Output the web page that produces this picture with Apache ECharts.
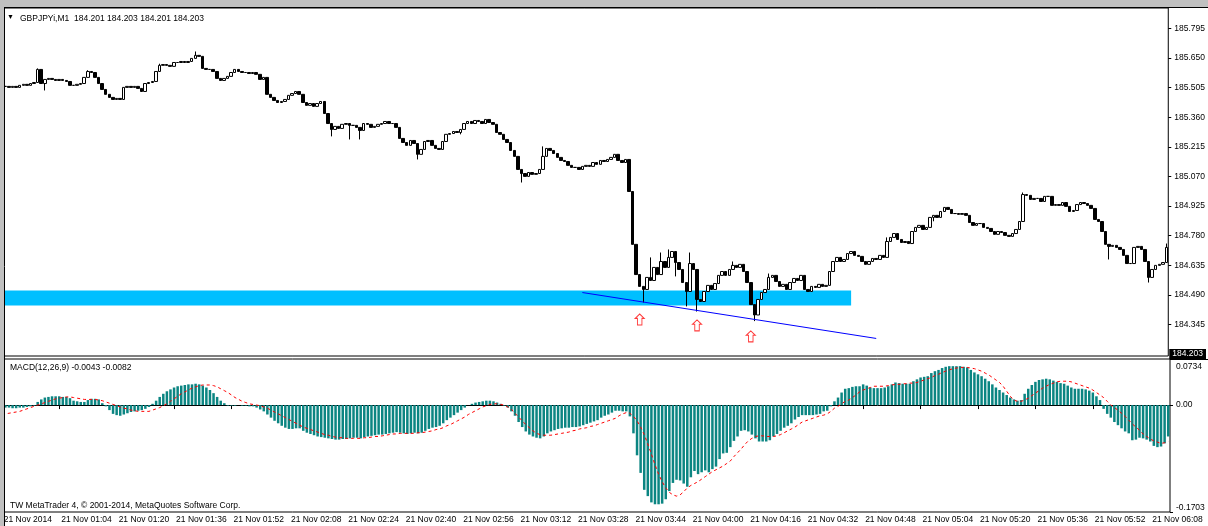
<!DOCTYPE html>
<html>
<head>
<meta charset="utf-8">
<script src="https://cdn.jsdelivr.net/npm/echarts@6/dist/echarts.min.js"></script>
<style>
html, body { margin: 0; padding: 0; background: #fff; }
#chart { width: 1208px; height: 526px; }
</style>
</head>
<body>
<div id="chart"></div>
<script>
// GBPJPYi M1, 21 Nov 2014 00:48 .. 06:13
// closes in points above 184.000 (1 point = 0.001)
const closePts = [
  1511,1511,1506,1511,1506,1516,1521,1516,1525,1530,
  1594,1525,1545,1550,1545,1540,1545,1540,1535,1516,
  1516,1521,1525,1555,1584,1579,1555,1525,1496,1472,
  1457,1447,1452,1447,1506,1511,1506,1511,1501,1486,
  1525,1530,1535,1584,1614,1618,1614,1609,1628,1628,
  1633,1628,1633,1648,1663,1658,1599,1594,1594,1584,
  1550,1540,1550,1560,1579,1594,1584,1579,1579,1574,
  1579,1570,1545,1555,1472,1457,1442,1432,1437,1447,
  1467,1476,1486,1472,1432,1418,1427,1413,1427,1437,
  1378,1329,1300,1315,1305,1325,1329,1320,1320,1310,
  1295,1329,1325,1310,1315,1325,1329,1339,1329,1329,
  1310,1256,1236,1222,1246,1231,1178,1202,1241,1246,
  1222,1207,1202,1241,1276,1280,1290,1285,1300,1329,
  1339,1329,1344,1339,1329,1349,1334,1325,1285,1276,
  1251,1236,1197,1168,1104,1084,1070,1089,1080,1084,
  1104,1168,1207,1197,1182,1163,1148,1143,1124,1114,
  1114,1104,1119,1124,1119,1138,1129,1148,1143,1153,
  1163,1178,1148,1138,1153,996,737,589,531,516,
  575,560,624,589,653,624,673,702,648,614,
  550,506,643,614,467,457,506,536,516,545,
  585,604,585,614,634,624,639,604,550,442,
  391,467,501,516,575,585,555,531,541,516,
  550,570,560,585,516,506,531,526,541,531,
  536,604,653,673,653,663,692,702,683,678,
  653,639,653,668,663,683,673,751,771,790,
  761,746,751,741,800,820,830,810,820,869,
  879,869,898,918,908,888,888,884,888,879,
  844,830,839,839,820,815,800,786,800,795,
  781,776,790,810,849,981,977,957,962,962,
  947,972,972,928,932,928,942,923,898,903,
  932,942,937,928,913,859,849,800,737,727,
  732,722,712,683,643,643,722,727,712,653,
  575,614,634,639,648,722
];

// long wicks (points above 184.000), by bar index
const highPts = {10: 1599, 24: 1590, 44: 1622, 54: 1682, 151: 1217, 181: 673, 184: 697, 186: 712,
  192: 697, 204: 653, 214: 594, 247: 771, 285: 991, 325: 741};
const lowPts = {12: 1491, 92: 1266, 97: 1251, 100: 1251, 116: 1153, 128: 1276, 145: 1040, 179: 452,
  188: 580, 191: 433, 194: 408, 210: 361, 260: 850, 309: 663, 320: 550};

// MACD(12,26,9) main (histogram) and signal, in thousandths
const macdMain = [
  -3,-4,-4,-5,-5,-4,-4,-3,-2,-1,
  5,9,12,13,14,14,14,13,13,11,
  7,6,5,5,8,10,10,9,
  3,-2,-8,-14,-16,-17,-15,-13,-11,-10,-9,-8,-6,-3,
  2,7,13,18,22,25,28,30,31,32,33,33,34,33,31,28,24,19,13,7,3,
  -1,-1,-1,0,-1,-1,-2,-2,
  -4,-7,-10,-15,-20,-25,-29,-33,-36,-38,-38,-37,-37,
  -41,-44,-46,-48,-50,-51,-52,-53,-54,-55,-55,-54,-54,-53,-52,-52,-53,-51,-50,-49,
  -48,-47,-47,-46,-45,-44,-43,-44,-45,-46,-45,-44,-45,-44,-41,-38,-36,-35,-33,-29,
  -24,-20,-16,-12,-8,-4,0,
  2,4,5,6,7,7,6,4,2,-1,-4,
  -10,-17,-27,-35,-42,-47,-50,-52,-53,-50,-45,-42,-40,-38,-37,-36,-36,-35,-35,-34,
  -32,-30,-28,-26,-24,-20,-17,-15,-12,-9,-9,-10,-10,
  -18,-45,-80,-108,-135,-145,-155,-158,-158,-157,-150,-137,-124,-119,-120,-125,-130,-115,-105,-110,
  -107,-104,-107,-102,-98,-86,-77,-76,-67,-57,-50,-41,-40,-42,-47,-53,-58,-58,-58,-56,
  -50,-46,-41,-36,-33,-29,-23,-19,-16,-16,-16,-16,-15,-14,-10,-9,-2,
  6,12,20,26,27,29,30,30,33,31,28,27,27,27,28,
  30,33,36,35,34,34,34,38,41,44,45,46,51,54,56,59,61,62,62,62,
  62,61,60,56,52,49,46,42,38,33,28,24,20,16,12,9,7,8,
  18,26,32,37,40,41,42,41,39,37,35,34,31,28,26,26,26,25,23,20,14,8,
  -6,-14,-20,-27,-32,-37,-42,-45,-56,-55,-52,-53,-55,-58,-65,-67,-66,-61,-50
];
const macdSignal = [
  -14,-14,-13,-12,-11,-10,-8,-6,-4,-2,
  0,2,4,6,8,10,11,12,13,13,
  12,11,10,9,9,9,9,8,7,5,
  3,1,-1,-3,-5,-6,-8,-9,-10,-10,
  -10,-10,-8,-6,-4,-1,2,6,10,14,
  18,21,24,27,29,31,32,32,32,31,
  29,26,23,20,16,12,9,6,4,2,
  1,0,-1,-3,-5,-8,-11,-14,-17,-20,
  -23,-26,-29,-32,-35,-37,-39,-41,-43,-45,
  -47,-48,-50,-51,-52,-52,-53,-53,-53,-53,
  -53,-52,-52,-51,-50,-50,-49,-48,-47,-46,
  -46,-45,-45,-45,-45,-45,-44,-44,-43,-42,
  -41,-39,-38,-36,-33,-31,-28,-25,-22,-19,
  -15,-12,-9,-6,-3,-1,1,2,2,1,
  0,-3,-7,-13,-19,-25,-31,-36,-41,-45,
  -47,-48,-48,-48,-47,-46,-45,-44,-43,-41,
  -40,-38,-37,-36,-34,-33,-31,-29,-27,-25,
  -23,-21,-17,-14,-12,-13,-18,-25,-35,-47,
  -62,-78,-95,-110,-122,-132,-139,-143,-145,-143,
  -138,-132,-128,-125,-122,-118,-114,-110,-106,-103,
  -100,-97,-93,-89,-82,-76,-70,-63,-57,-53,
  -50,-49,-49,-50,-50,-50,-49,-47,-44,-41,
  -38,-35,-31,-27,-25,-23,-21,-19,-17,-16,
  -14,-10,-5,-2,2,6,8,12,16,21,
  24,26,28,30,30,30,30,31,32,33,
  33,34,34,35,35,36,38,40,42,44,
  47,49,52,54,56,58,59,60,60,60,
  59,58,56,54,51,48,44,40,36,30,
  22,14,8,6,6,8,11,15,19,23,
  27,30,33,35,37,38,38,38,37,35,
  33,31,29,27,24,20,16,12,6,0,
  -4,-8,-13,-18,-24,-30,-35,-40,-46,-50,
  -54,-57,-59,-61,-60,-58
];

const timeLabels = ['21 Nov 2014', '21 Nov 01:04', '21 Nov 01:20', '21 Nov 01:36', '21 Nov 01:52',
  '21 Nov 02:08', '21 Nov 02:24', '21 Nov 02:40', '21 Nov 02:56', '21 Nov 03:12', '21 Nov 03:28',
  '21 Nov 03:44', '21 Nov 04:00', '21 Nov 04:16', '21 Nov 04:32', '21 Nov 04:48', '21 Nov 05:04',
  '21 Nov 05:20', '21 Nov 05:36', '21 Nov 05:52', '21 Nov 06:08'];
const priceTicks = [184.345, 184.490, 184.635, 184.780, 184.925, 185.070, 185.215, 185.360, 185.505, 185.650, 185.795];
const macdTicks = [-0.1703, 0, 0.0734];
const bidPrice = 184.203;

// drawn objects: support zone, trend line, arrows
const zoneBars = [0, 237];
const zonePrices = [184.511, 184.438];
const trendBars = [162, 244];
const trendPrices = [184.501, 184.276];
const arrowBars = [178, 194, 209];
const arrowPrices = [184.369, 184.340, 184.286];

const FONT = 'Tahoma, "Liberation Sans", sans-serif';
const FS = 8.5;

const pad = n => (n < 10 ? '0' : '') + n;
const categories = closePts.map((_, i) => {
  const m = 48 + i;
  return '21 Nov ' + pad(Math.floor(m / 60)) + ':' + pad(m % 60);
});
const toPrice = p => +(184 + p / 1000).toFixed(3);
const candles = closePts.map((c, i) => {
  const o = i === 0 ? c : closePts[i - 1];
  const lo = Math.min(o, c, lowPts[i] !== undefined ? lowPts[i] : Infinity);
  const hi = Math.max(o, c, highPts[i] !== undefined ? highPts[i] : -Infinity);
  return [toPrice(o), toPrice(c), toPrice(lo), toPrice(hi)];
});

const chart = echarts.init(document.getElementById('chart'), null, {renderer: 'canvas'});

chart.setOption({
  animation: false,
  backgroundColor: '#ffffff',
  textStyle: {fontFamily: FONT, fontSize: FS, color: '#000'},
  title: [
    {text: '▼', left: 7, top: 14, padding: 0, textStyle: {fontSize: 7, fontWeight: 'normal', color: '#000', fontFamily: FONT}},
    {text: 'GBPJPYi,M1  184.201 184.203 184.201 184.203', left: 20, top: 14, padding: 0,
      textStyle: {fontSize: FS, fontWeight: 'normal', color: '#000', fontFamily: FONT}},
    {text: 'MACD(12,26,9) -0.0043 -0.0082', left: 10, top: 363, padding: 0,
      textStyle: {fontSize: FS, fontWeight: 'normal', color: '#000', fontFamily: FONT}},
    {text: 'TW MetaTrader 4, © 2001-2014, MetaQuotes Software Corp.', left: 10, top: 501, padding: 0,
      textStyle: {fontSize: FS, fontWeight: 'normal', color: '#000', fontFamily: FONT}}
  ],
  grid: [
    {left: 0, top: 8, width: 1170, height: 348, show: true, borderColor: '#000', borderWidth: 1},
    {left: 0, top: 359, width: 1170, height: 153, show: true, borderColor: '#000', borderWidth: 1}
  ],
  xAxis: [
    {type: 'category', gridIndex: 0, data: categories, boundaryGap: true,
      axisLine: {show: false}, axisTick: {show: false}, axisLabel: {show: false}, splitLine: {show: false}},
    {type: 'category', gridIndex: 1, data: categories, boundaryGap: true, position: 'bottom',
      axisLine: {show: true, lineStyle: {color: '#000', width: 1}},
      axisTick: {show: true, interval: 15, alignWithLabel: true, length: 4, lineStyle: {color: '#000'}},
      axisLabel: {show: true, interval: 15, align: 'left', margin: 3, padding: [0, 0, 0, 2],
        fontFamily: FONT, fontSize: FS, color: '#000',
        formatter: (v, i) => (i % 16 === 0 ? timeLabels[i / 16] : '')},
      splitLine: {show: false}}
  ],
  yAxis: [
    {type: 'value', gridIndex: 0, position: 'right', min: 184.190, max: 185.895, scale: true,
      axisLine: {show: false}, splitLine: {show: false},
      axisTick: {show: true, length: 3, lineStyle: {color: '#000'}, customValues: priceTicks},
      axisLabel: {show: true, margin: 6, fontFamily: FONT, fontSize: FS, color: '#000',
        customValues: priceTicks, formatter: v => v.toFixed(3)}},
    {type: 'value', gridIndex: 1, position: 'right', min: -0.1703, max: 0.0734,
      axisLine: {show: false}, splitLine: {show: false},
      axisTick: {show: true, length: 3, lineStyle: {color: '#000'}, customValues: macdTicks},
      axisLabel: {show: true, margin: 6, fontFamily: FONT, fontSize: FS, color: '#000',
        customValues: macdTicks, verticalAlignMinLabel: 'bottom', verticalAlignMaxLabel: 'top',
        padding: [3, 0, 0, 0],
        formatter: v => (v === 0 ? '0.00' : v.toFixed(4))}}
  ],
  series: [
    {
      name: 'zone', type: 'line', xAxisIndex: 0, yAxisIndex: 0, z: 1,
      data: candles.map(c => c[1]), showSymbol: false, silent: true,
      lineStyle: {opacity: 0},
      markArea: {
        silent: true,
        itemStyle: {color: '#00bfff', opacity: 1},
        data: [[{coord: [zoneBars[0], zonePrices[0]]}, {coord: [zoneBars[1], zonePrices[1]]}]]
      }
    },
    {
      name: 'GBPJPYi', type: 'candlestick', xAxisIndex: 0, yAxisIndex: 0, z: 2,
      data: candles, barWidth: 3,
      itemStyle: {color: '#ffffff', color0: '#000000', borderColor: '#000000', borderColor0: '#000000', borderWidth: 1}
    },
    {
      name: 'arrows', type: 'scatter', xAxisIndex: 0, yAxisIndex: 0, z: 3,
      data: arrowBars.map((b, i) => [b, arrowPrices[i]]),
      symbol: 'path://M4,0 L8,4 L6,4 L6,10 L2,10 L2,4 L0,4 Z', symbolSize: [9, 11],
      itemStyle: {color: '#ffffff', borderColor: '#ff3a3a', borderWidth: 1, opacity: 1},
      markLine: {
        silent: true, symbol: ['none', 'none'],
        lineStyle: {color: '#0000ff', width: 1, type: 'solid'},
        label: {show: false},
        data: [[{coord: [trendBars[0], trendPrices[0]]}, {coord: [trendBars[1], trendPrices[1]]}]]
      }
    },
    {
      name: 'bid', type: 'line', xAxisIndex: 0, yAxisIndex: 0, z: 5,
      data: [], showSymbol: false,
      markLine: {
        silent: true, symbol: ['none', 'none'],
        lineStyle: {color: 'rgba(0,0,0,0)', width: 0},
        label: {show: true, position: 'end', distance: 1, formatter: bidPrice.toFixed(3),
          backgroundColor: '#000', color: '#fff', padding: [1, 3, 0, 3], fontFamily: FONT, fontSize: FS},
        data: [{yAxis: bidPrice}]
      }
    },
    {
      name: 'MACD', type: 'bar', xAxisIndex: 1, yAxisIndex: 1,
      data: macdMain.map(v => v / 1000), barWidth: 2.5,
      itemStyle: {color: '#0b8582'}
    },
    {
      name: 'Signal', type: 'line', xAxisIndex: 1, yAxisIndex: 1,
      data: macdSignal.map(v => v / 1000), showSymbol: false,
      lineStyle: {color: '#ff0000', width: 1, type: [3, 3]}
    }
  ],
  graphic: [
    {type: 'rect', z: 100, shape: {x: 0, y: 0, width: 1208, height: 7}, style: {fill: '#c0c0c0'}},
    {type: 'rect', z: 100, shape: {x: 0, y: 0, width: 4, height: 526}, style: {fill: '#c0c0c0'}},
    {type: 'line', z: 101, shape: {x1: 4.5, y1: 7, x2: 4.5, y2: 526}, style: {stroke: '#000', lineWidth: 1}},
    {type: 'line', z: 101, shape: {x1: 4, y1: 7.5, x2: 1208, y2: 7.5}, style: {stroke: '#000', lineWidth: 1}},
    {type: 'line', z: 101, shape: {x1: 1170, y1: 359.5, x2: 1208, y2: 359.5}, style: {stroke: '#000', lineWidth: 1}}
  ]
});
</script>
</body>
</html>
